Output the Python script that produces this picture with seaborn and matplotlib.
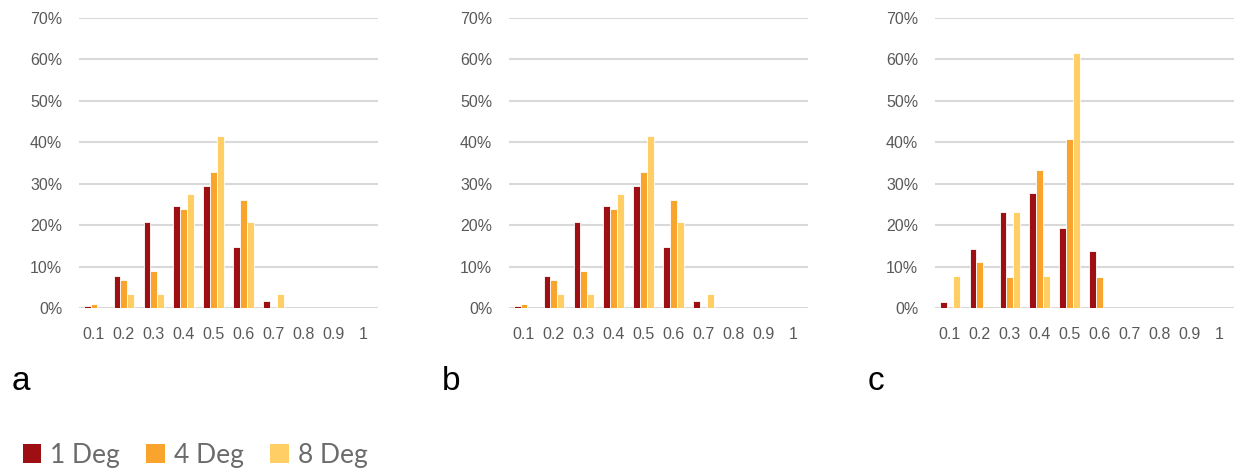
import numpy as np
import pandas as pd
import matplotlib
matplotlib.use("Agg")
import matplotlib.pyplot as plt
from matplotlib.patches import Patch
import seaborn as sns

categories = ["0.1", "0.2", "0.3", "0.4", "0.5", "0.6", "0.7", "0.8", "0.9", "1"]
series_names = ["1 Deg", "4 Deg", "8 Deg"]

# panel a (percent)
a_1deg = [0.5, 7.8, 20.7, 24.6, 29.4, 14.8, 1.6, 0, 0, 0]
a_4deg = [1.0, 6.8, 9.0, 23.8, 32.9, 26.1, 0, 0, 0, 0]
a_8deg = [0, 3.4, 3.4, 27.6, 41.4, 20.7, 3.4, 0, 0, 0]
# panel b (percent)
b_1deg = [0.5, 7.8, 20.7, 24.6, 29.4, 14.8, 1.6, 0, 0, 0]
b_4deg = [1.0, 6.8, 9.0, 23.8, 32.9, 26.1, 0, 0, 0, 0]
b_8deg = [0, 3.4, 3.4, 27.6, 41.4, 20.7, 3.4, 0, 0, 0]
# panel c (percent)
c_1deg = [1.5, 14.2, 23.1, 27.7, 19.2, 13.8, 0, 0, 0, 0]
c_4deg = [0, 11.0, 7.4, 33.3, 40.7, 7.4, 0, 0, 0, 0]
c_8deg = [7.7, 0, 23.1, 7.7, 61.5, 0, 0, 0, 0, 0]

panel_labels = ["a", "b", "c"]
yticks = [0, 10, 20, 30, 40, 50, 60, 70]
colors = ["#9E0F14", "#F9A42C", "#FFCE65"]

panels = [(a_1deg, a_4deg, a_8deg), (b_1deg, b_4deg, b_8deg), (c_1deg, c_4deg, c_8deg)]

sns.set_theme(style="white")
plt.rcParams['font.family'] = ['Liberation Sans', 'DejaVu Sans']

fig = plt.figure(figsize=(12.36, 4.68), dpi=100)
W, H = 1236, 468
lefts = [79, 509, 935]
bottom_px = 308
top_px = 18
width_px = 299

for i, (vals, lab) in enumerate(zip(panels, panel_labels)):
    ax = fig.add_axes([lefts[i] / W, 1 - bottom_px / H, width_px / W, (bottom_px - top_px) / H])
    rows = []
    for name, v in zip(series_names, vals):
        for c, val in zip(categories, v):
            rows.append({"cat": c, "series": name, "val": val})
    df = pd.DataFrame(rows)
    sns.barplot(data=df, x="cat", y="val", hue="series", order=categories,
                hue_order=series_names, palette=colors, width=0.68, saturation=1,
                edgecolor="white", linewidth=0.6, ax=ax, legend=False)
    ax.set_ylim(0, 70)
    ax.set_xlim(-0.5, len(categories) - 0.5)
    ax.set_yticks(yticks)
    ax.set_yticklabels([f"{t}%" for t in yticks])
    ax.set_xlabel("")
    ax.set_ylabel("")
    for s in ax.spines.values():
        s.set_visible(False)
    ax.yaxis.grid(True, color="#D9D9D9", linewidth=1.5)
    ax.set_axisbelow(True)
    ax.tick_params(axis="both", length=0, colors="#595959", labelsize=11.5)
    ax.tick_params(axis="y", pad=12)
    ax.tick_params(axis="x", pad=14)
    fig.text((lefts[i] - 67) / W, 1 - 382 / H, lab, fontsize=24, color="#000000",
             ha="left", va="center")

handles = [Patch(facecolor=c, edgecolor="none") for c in colors]
leg = fig.legend(handles, series_names, loc="center left", bbox_to_anchor=(-0.001, 1 - 455 / H),
                 ncol=3, frameon=False, handlelength=0.7, handleheight=0.7,
                 handletextpad=0.35, columnspacing=1.0, prop={"family": "Lato", "size": 19})
for t in leg.get_texts():
    t.set_color("#6B6B6B")

fig.savefig("out.png", dpi=100)
